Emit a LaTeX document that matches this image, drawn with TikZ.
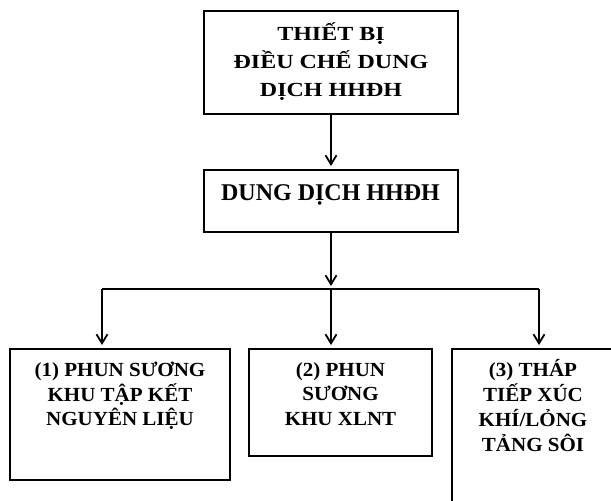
\documentclass[tikz,border=0pt]{standalone}
\usepackage{fontspec}
\setmainfont{Liberation Serif}
\newfontfamily\topf{Liberation Serif}[FakeStretch=1.2]
\newfontfamily\botf{Liberation Serif}[FakeStretch=1.05]
\usetikzlibrary{arrows.meta,calc}
\begin{document}
\begin{tikzpicture}[x=1pt,y=-1pt,
  box/.style={draw, line width=2.4pt, inner sep=0pt, outer sep=0pt, anchor=north west},
  lin/.style={line width=1.8pt},
  conn/.style={line width=1.8pt, shorten >=4pt, -{Straight Barb[length=9pt,width=11pt,line width=1.8pt]}},
  toptxt/.style={anchor=base, inner sep=0pt, font=\topf\bfseries\fontsize{20}{28}\selectfont},
  midtxt/.style={anchor=base, inner sep=0pt, font=\bfseries\fontsize{24}{28}\selectfont},
  bottxt/.style={anchor=base, inner sep=0pt, font=\botf\bfseries\fontsize{20}{24}\selectfont}]
\useasboundingbox (0,0) rectangle (611,501);
\clip (0,0) rectangle (611,501);
% boxes
\node[box, minimum width=254pt, minimum height=103pt] (tb) at (204,11) {};
\node[box, minimum width=254pt, minimum height=62pt] (md) at (204,170) {};
\node[box, minimum width=220pt, minimum height=131pt] (b1) at (10,349) {};
\node[box, minimum width=183pt, minimum height=107pt] (b2) at (249,349) {};
\node[box, minimum width=162pt, minimum height=175pt] (b3) at (452,349) {};
% texts
\node[toptxt] (t1) at (331,40.7) {THIẾT BỊ};
\node[toptxt] (t2) at (331,68.3) {ĐIỀU CHẾ DUNG};
\node[toptxt] (t3) at (331,96.7) {DỊCH HHĐH};
\node[midtxt] (m1) at (330.5,200) {DUNG DỊCH HHĐH};
\node[bottxt] (p1) at (120,376) {(1) PHUN SƯƠNG};
\node[bottxt] (p2) at (120,401) {KHU TẬP KẾT};
\node[bottxt] (p3) at (120,425.5) {NGUYÊN LIỆU};
\node[bottxt] (q1) at (340.5,376) {(2) PHUN};
\node[bottxt] (q2) at (340.5,400.5) {SƯƠNG};
\node[bottxt] (q3) at (340.5,425) {KHU XLNT};
\node[bottxt] (r1) at (533,376) {(3) THÁP};
\node[bottxt] (r2) at (533,401.5) {TIẾP XÚC};
\node[bottxt] (r3) at (533,426.5) {KHÍ/LỎNG};
\node[bottxt] (r4) at (533,451) {TẢNG SÔI};
% connectors
\coordinate (jl) at (102,289);
\coordinate (jm) at (md.south |- jl);
\coordinate (jr) at (539,289);
\draw[conn] (tb.south) -- (tb.south |- md.north);
\draw[conn, shorten >=3pt] (md.south) -- (jm);
\draw[lin] (jl) -- (jr);
\draw[conn] (jl) -- (jl |- b1.north);
\draw[conn] (jm) -- (jm |- b2.north);
\draw[conn] (jr) -- (jr |- b3.north);
\end{tikzpicture}
\end{document}
